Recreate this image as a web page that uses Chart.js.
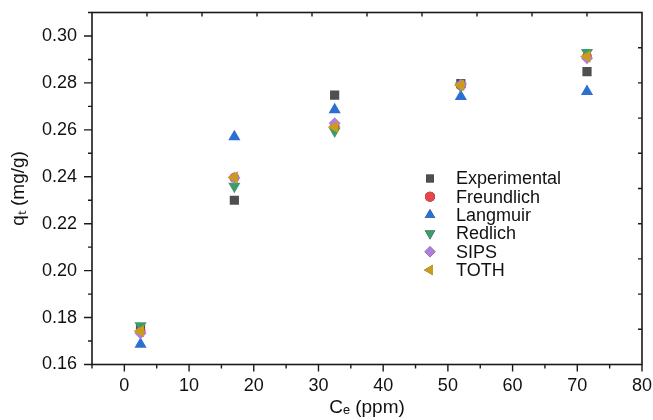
<!DOCTYPE html>
<html>
<head>
<meta charset="utf-8">
<script src="https://cdn.jsdelivr.net/npm/chart.js@4/dist/chart.umd.min.js"></script>
<style>
  html, body { margin: 0; padding: 0; background: #fff; }
  #wrap { width: 653px; height: 420px; }
</style>
</head>
<body>
<div id="wrap"><canvas id="isoChart" width="653" height="420"></canvas></div>
<script>
// Ce (ppm) positions of the measurements
var ceValues = [2.5, 17, 32.5, 52, 71.5];

// qt (mg/g) per model
var experimental = [0.1750, 0.2300, 0.2748, 0.2797, 0.2848];
var freundlich   = [0.1740, 0.2396, 0.2614, 0.2789, 0.2912];
var langmuir     = [0.1686, 0.2571, 0.2686, 0.2742, 0.2763];
var redlich      = [0.1765, 0.2360, 0.2595, 0.2786, 0.2930];
var sips         = [0.1733, 0.2396, 0.2628, 0.2792, 0.2905];
var toth         = [0.1742, 0.2398, 0.2612, 0.2790, 0.2912];

var seriesNames = ['Experimental', 'Freundlich', 'Langmuir', 'Redlich', 'SIPS', 'TOTH'];

// axis ticks
var xTickValues = [0, 10, 20, 30, 40, 50, 60, 70, 80];
var yTickValues = [0.16, 0.18, 0.20, 0.22, 0.24, 0.26, 0.28, 0.30];

var FONT = "'Liberation Sans', Arial, sans-serif";

function toPoints(ys) {
  return ceValues.map(function (x, i) { return {x: x, y: ys[i]}; });
}

function fixedTicks(values) {
  return function (scale) {
    scale.ticks = values.map(function (v) { return {value: v}; });
  };
}

// frame, outward major/minor ticks on left/bottom, inward ticks on top/right
var framePlugin = {
  id: 'originFrame',
  afterDraw: function (chart) {
    var ctx = chart.ctx, a = chart.chartArea;
    var xs = chart.scales.x, ys = chart.scales.y;
    ctx.save();
    ctx.strokeStyle = '#1a1a1a';
    ctx.lineWidth = 1.6;
    ctx.strokeRect(a.left, a.top, a.right - a.left, a.bottom - a.top);
    ctx.lineWidth = 1.4;
    ctx.beginPath();
    var v, p;
    for (v = -5; v <= 80; v += 5) {
      p = xs.getPixelForValue(v);
      var len = (v % 10 === 0) ? 7 : 4;
      ctx.moveTo(p, a.bottom);
      ctx.lineTo(p, a.bottom + len);
    }
    for (var k = 0; k <= 15; k++) {
      v = 0.16 + k * 0.01;
      p = ys.getPixelForValue(v);
      var l2 = (k % 2 === 0) ? 8 : 4;
      ctx.moveTo(a.left, p);
      ctx.lineTo(a.left - l2, p);
    }
    var w = (a.right - a.left) / 10, h = (a.bottom - a.top) / 10;
    for (k = 1; k < 10; k++) {
      ctx.moveTo(a.left + k * w, a.top);
      ctx.lineTo(a.left + k * w, a.top + 4);
      ctx.moveTo(a.right, a.bottom - k * h);
      ctx.lineTo(a.right - 4, a.bottom - k * h);
    }
    ctx.stroke();
    ctx.restore();
  }
};

// legend drawn inside the plot area
var insideLegend = {
  id: 'insideLegend',
  afterDatasetsDraw: function (chart, args, opts) {
    var ctx = chart.ctx, a = chart.chartArea;
    ctx.save();
    ctx.font = opts.fontSize + 'px ' + FONT;
    ctx.textBaseline = 'middle';
    ctx.textAlign = 'left';
    chart.data.datasets.forEach(function (ds, i) {
      var y = a.top + opts.top + i * opts.rowHeight;
      var sx = a.left + opts.symbolX;
      Chart.helpers.drawPoint(ctx, {
        pointStyle: ds.pointStyle,
        rotation: ds.rotation || 0,
        radius: ds.legendRadius,
        borderWidth: 0
      }, sx, y);
      ctx.fillStyle = ds.backgroundColor;
      ctx.fill();
      ctx.fillStyle = '#111';
      ctx.fillText(ds.label, a.left + opts.textX, y + 1);
    });
    ctx.restore();
  }
};

var styles = [
  {color: '#4f4f4f', shape: 'rect', rot: 0, r: 6.5, lr: 5.5},
  {color: '#e4464a', shape: 'circle', rot: 0, r: 5, lr: 5},
  {color: '#2b6fd0', shape: 'triangle', rot: 0, r: 7, lr: 6},
  {color: '#3e9b6c', shape: 'triangle', rot: 180, r: 7, lr: 6},
  {color: '#b07ddb', shape: 'rectRot', rot: 0, r: 6, lr: 5.5},
  {color: '#c99d1b', shape: 'triangle', rot: 270, r: 7, lr: 6}
];
var allSeries = [experimental, freundlich, langmuir, redlich, sips, toth];

var datasets = allSeries.map(function (ys, i) {
  var s = styles[i];
  return {
    label: seriesNames[i],
    data: toPoints(ys),
    pointStyle: s.shape,
    rotation: s.rot,
    pointRadius: s.r,
    pointHoverRadius: s.r,
    legendRadius: s.lr,
    backgroundColor: s.color,
    borderColor: s.color,
    borderWidth: 0,
    order: allSeries.length - i
  };
});

new Chart(document.getElementById('isoChart'), {
  type: 'scatter',
  data: {datasets: datasets},
  plugins: [framePlugin, insideLegend],
  options: {
    responsive: false,
    animation: false,
    layout: {padding: {left: 0, right: 11, top: 12.5, bottom: 0}},
    plugins: {
      legend: {display: false},
      tooltip: {enabled: false},
      insideLegend: {symbolX: 338, textX: 364, top: 166, rowHeight: 18.3, fontSize: 18}
    },
    scales: {
      x: {
        type: 'linear',
        min: -5,
        max: 80,
        afterBuildTicks: fixedTicks(xTickValues),
        afterFit: function (scale) {
          scale.height = 55.5;
          scale.paddingLeft = 0;
          scale.paddingRight = 0;
        },
        grid: {display: false, drawTicks: false},
        border: {display: false},
        ticks: {
          color: '#111',
          padding: 11,
          font: {family: FONT, size: 18},
          callback: function (v) { return v; }
        },
        title: {
          display: true,
          text: 'C\u2091 (ppm)',
          color: '#111',
          padding: {top: 0, bottom: 1},
          font: {family: FONT, size: 19}
        }
      },
      y: {
        type: 'linear',
        min: 0.16,
        max: 0.31,
        afterBuildTicks: fixedTicks(yTickValues),
        afterFit: function (scale) {
          scale.width = 92;
          scale.paddingTop = 0;
          scale.paddingBottom = 0;
        },
        grid: {display: false, drawTicks: false},
        border: {display: false},
        ticks: {
          color: '#111',
          padding: 15,
          font: {family: FONT, size: 18},
          callback: function (v) { return v.toFixed(2); }
        },
        title: {
          display: true,
          text: 'q\u209C (mg/g)',
          color: '#111',
          padding: {top: 7, bottom: 0},
          font: {family: FONT, size: 19}
        }
      }
    }
  }
});
</script>
</body>
</html>
